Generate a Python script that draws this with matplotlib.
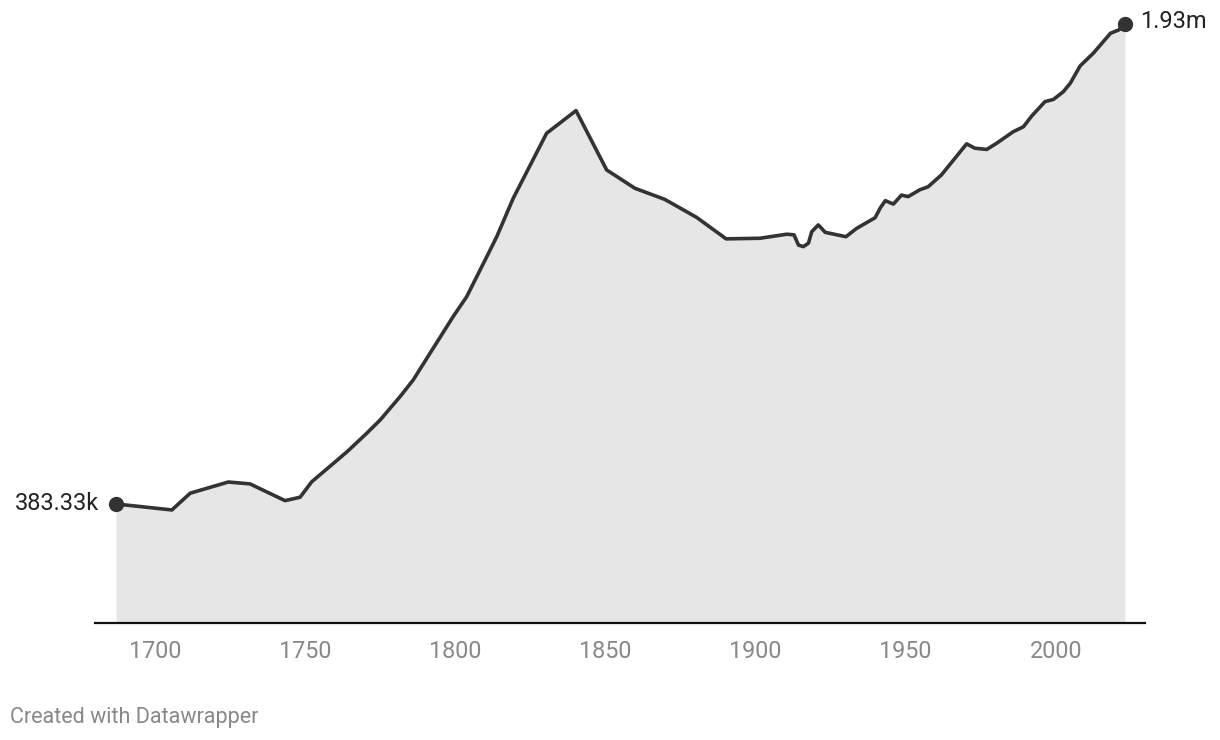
import numpy as np
import matplotlib.pyplot as plt

plt.rcParams['font.family'] = ['Roboto', 'DejaVu Sans']

# population (thousands)
years = [1687, 1705.6, 1711.7, 1724.4, 1731.6, 1743.3, 1748.3, 1752.2,
         1759.4, 1764, 1770.5, 1775, 1781.6, 1786, 1791.6, 1799.3,
         1803.8, 1810.5, 1813.8, 1819.3,
         1830.4, 1840.2, 1850.4, 1859.8, 1869.8, 1880.4, 1890.2, 1901.5,
         1910.4, 1912.8, 1914.3, 1915.9, 1917.6, 1918.7, 1920.9, 1923.2,
         1930.1, 1933.7, 1939.8, 1941.5, 1943.2, 1945.9, 1948.6, 1950.8,
         1954.7, 1957.5, 1961.9, 1970.3, 1973, 1977, 1980.3, 1985.8,
         1989.2, 1992, 1996.4, 1999.2, 2002.5, 2004.8, 2008.1, 2012.5,
         2018.2, 2021, 2023]
pop = [383.33, 364, 418, 454, 448, 394, 405, 455,
       514, 552, 611, 654, 729, 783, 869, 987,
       1051, 1180, 1244, 1368,
       1577, 1650, 1459, 1400, 1364, 1306, 1237, 1239,
       1252, 1250, 1217, 1212, 1223, 1260, 1282, 1258,
       1244, 1271, 1305, 1336, 1360, 1349, 1378, 1373,
       1395, 1405, 1443, 1543, 1529, 1525, 1545, 1582,
       1598, 1633, 1679, 1686, 1711, 1738, 1794, 1835,
       1899, 1910, 1930]
xticks = [1700, 1750, 1800, 1850, 1900, 1950, 2000]
start_label = '383.33k'
end_label = '1.93m'

fig = plt.figure(figsize=(12.2, 7.4), dpi=100)
ax = fig.add_axes([95/1220, 1 - 623/740, 1050/1220, 613/740])

ax.fill_between(years, pop, 0, color='#e6e6e6', lw=0)
ax.plot(years, pop, color='#333333', lw=2.6, solid_joinstyle='round', zorder=3)
ax.plot([years[0], years[-1]], [pop[0], pop[-1]], 'o', color='#333333', ms=10, zorder=4)

ax.text(years[0] - 5.5, pop[0], start_label, ha='right', va='center', fontsize=17, color='#222222')
ax.text(years[-1] + 5, pop[-1] + 6, end_label, ha='left', va='center', fontsize=17, color='#222222')

ax.set_xlim(1680, 2029.7)
ax.set_ylim(0, 1974)
ax.set_xticks(xticks)
ax.set_xticklabels([str(t) for t in xticks], fontsize=16.8, color='#888888')
ax.tick_params(axis='x', length=0, pad=12)
ax.set_yticks([])
for s in ['top', 'right', 'left']:
    ax.spines[s].set_visible(False)
ax.spines['bottom'].set_color('#111111')
ax.spines['bottom'].set_linewidth(1.6)
ax.spines['bottom'].set_zorder(5)

fig.text(10/1220, 1 - 717/740, 'Created with Datawrapper', ha='left', va='center',
         fontsize=15.5, color='#888888')

fig.savefig('out.png', dpi=100)
